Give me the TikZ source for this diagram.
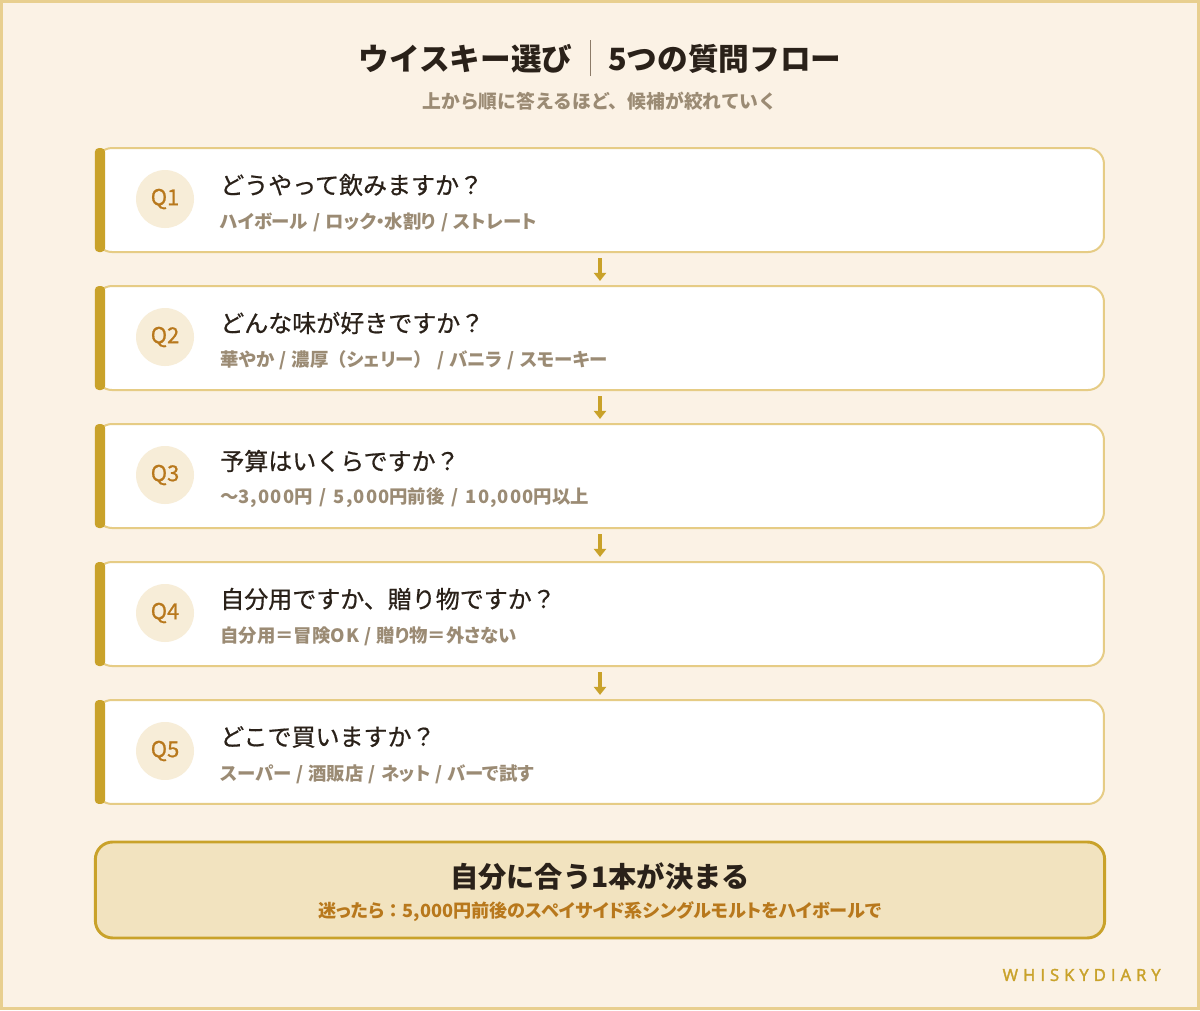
\documentclass[tikz,border=0pt]{standalone}
\usepackage{fontspec}
\setmainfont{Noto Sans CJK JP}
\newfontfamily\jpp{Noto Sans CJK JP}[RawFeature={+palt}]
\newfontfamily\jpmed{Noto Sans CJK JP}[FakeBold=0.7]
\newfontfamily\latf{Noto Sans CJK JP}[LetterSpace=6]
\newfontfamily\wmfont{Open Sans}[LetterSpace=30, FakeBold=2]
\newcommand\fwp[1]{{\rmfamily #1}}
\newcommand\lat[1]{{\latf #1}}
\newcommand\sls{\hspace{0.28em}/\hspace{0.28em}}
\usetikzlibrary{arrows.meta,calc}
\definecolor{bg}{HTML}{FBF2E5}
\definecolor{outer}{HTML}{E8CF8F}
\definecolor{cardborder}{HTML}{E6CC85}
\definecolor{gold}{HTML}{C9A22A}
\definecolor{circfill}{HTML}{F7EDD8}
\definecolor{qtext}{HTML}{B8781C}
\definecolor{darktext}{HTML}{2A2119}
\definecolor{graytext}{HTML}{9B8B74}
\definecolor{botfill}{HTML}{F2E3BF}
\definecolor{sepcol}{HTML}{8C7B68}
\tikzset{
  card/.style={draw=cardborder, line width=1.5pt, fill=white, rounded corners=12pt,
    minimum width=756pt, minimum height=78pt, inner sep=0pt, outer sep=0pt},
  accent/.style={fill=gold, rounded corners=3pt},
  qcircle/.style={circle, fill=circfill, minimum size=43.5pt, inner sep=0pt,
    text=qtext, font=\jpmed\fontsize{16.5pt}{19pt}\selectfont},
  qtitle/.style={anchor=west, inner sep=0pt, text=darktext, font=\jpmed\fontsize{18pt}{21pt}\selectfont},
  qsub/.style={anchor=west, inner sep=0pt, text=graytext, font=\jpp\bfseries\fontsize{13.8pt}{17pt}\selectfont},
  flowarrow/.style={draw=gold, line width=2.6pt, -{Triangle[length=6pt,width=9pt]}},
}
\begin{document}
\begin{tikzpicture}[x=0.75pt,y=-0.75pt]
\fill[bg] (0,0) rectangle (1200,1010);
\draw[outer, line width=2.6pt] (1.7,1.7) rectangle (1198.3,1008.3);
\useasboundingbox (0,0) rectangle (1200,1010);

% title
\node[inner sep=0pt, text=darktext, font=\bfseries\fontsize{23pt}{27pt}\selectfont] (title) at (600,58)
  {ウイスキー選び\hspace{13pt}{\color{sepcol}\rule[-4pt]{0.8pt}{27pt}}\hspace{13pt}5つの質問フロー};
\node[inner sep=0pt, text=graytext, font=\bfseries\fontsize{14.1pt}{17pt}\selectfont] (subtitle) at (600,101)
  {上から順に答えるほど、候補が絞れていく};

% cards
\foreach \i/\y/\qt/\qs in {
  1/200/{どうやって飲みますか？}/{ハイボール\sls ロック・水割り\sls ストレート},
  2/338/{どんな味が好きですか？}/{華やか\sls 濃厚\fwp{（}シェリー\fwp{）}\sls バニラ\sls スモーキー},
  3/476/{予算はいくらですか？}/{\fwp{～}\lat{3,000}円\hspace{0.1em}\sls\hspace{0.1em}\lat{5,000}円前後\hspace{0.1em}\sls\hspace{0.1em}\lat{10,000}円以上},
  4/614/{自分用ですか、贈り物ですか？}/{自分用\fwp{＝}冒険\lat{OK}\sls 贈り物\fwp{＝}外さない},
  5/752/{どこで買いますか？}/{スーパー\sls 酒販店\sls ネット\sls バーで試す}} {
  \node[card] (q\i) at (600,\y) {};
  \fill[accent] ([xshift=-0.9pt]q\i.north west) rectangle ([xshift=6.8pt]q\i.south west);
  \node[qcircle] (c\i) at (165,\y-1) {Q\i};
  \node[qtitle] (t\i) at (220,\y-15) {\qt};
  \node[qsub] (s\i) at (220,\y+22) {\qs};
}

\foreach \a/\b in {1/2,2/3,3/4,4/5}
  \draw[flowarrow] ([yshift=-4.5pt]q\a.south) -- ([yshift=3.8pt]q\b.north);

% result box
\node[draw=gold, line width=2.2pt, fill=botfill, rounded corners=13pt,
  minimum width=757pt, minimum height=72pt, inner sep=0pt] (res) at (600,890) {};
\node[inner sep=0pt, text=darktext, font=\bfseries\fontsize{21.2pt}{25pt}\selectfont] (rtitle) at (600,877)
  {自分に合う1本が決まる};
\node[inner sep=0pt, text=qtext, font=\jpp\bfseries\fontsize{13.6pt}{16pt}\selectfont] (rsub) at (600,912)
  {迷ったら\fwp{：}5,000円前後のスペイサイド系シングルモルトをハイボールで};

% watermark
\node[anchor=east, inner sep=0pt, text=gold, font=\wmfont\fontsize{12.5pt}{14pt}\selectfont] (wm) at (1161,975)
  {WHISKYDIARY};
\end{tikzpicture}
\end{document}
